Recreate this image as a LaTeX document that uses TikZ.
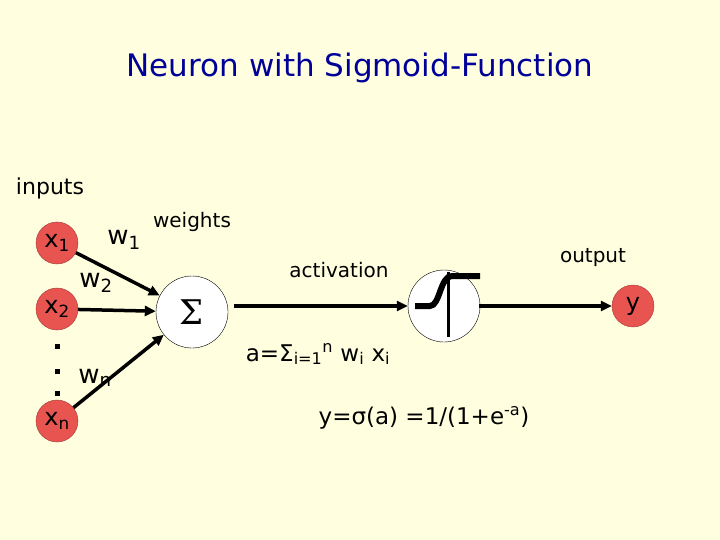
\documentclass[tikz,border=0pt]{standalone}
\usepackage{fontspec}
\setmainfont{DejaVu Sans}
\newfontfamily\serifg{DejaVu Serif}
\usetikzlibrary{arrows.meta}
\definecolor{bg}{HTML}{FFFFE0}
\definecolor{nred}{HTML}{E85450}
\definecolor{ttl}{HTML}{000099}
\begin{document}
\begin{tikzpicture}[x=1pt,y=-1pt,
  inp/.style={circle,draw=nred!70!black,fill=nred,minimum size=42pt,inner sep=0pt,font=\fontsize{24}{24}\selectfont},
  unit/.style={circle,draw=black,thin,fill=white,minimum size=72pt,inner sep=0pt},
  lbl/.style={font=\fontsize{22}{22}\selectfont},
  arr/.style={line width=3.5pt,-{Triangle[length=11pt,width=10pt]}}]
\fill[bg] (0,0) rectangle (720,540);
\useasboundingbox (0,0) rectangle (720,540);
\node[text=ttl,font=\fontsize{31}{31}\selectfont] (title) at (360,68) {Neuron with Sigmoid-Function};
\node[lbl] (inputs) at (50,188) {inputs};
\node[inp] (x1) at (57,243) {x$_{\mathrm{1}}$};
\node[inp] (x2) at (57,309) {x$_{\mathrm{2}}$};
\node[inp] (xn) at (57,421) {x$_{\mathrm{n}}$};
\foreach \y/\n in {346/d1,371/d2,393/d3}{\node[fill=black,minimum size=5pt,inner sep=0pt] (\n) at (57,\y) {};}
\node[unit,font=\serifg\fontsize{34}{34}\selectfont] (sum) at (192,312) {Σ};
\node[unit] (sig) at (444,306) {};
\node[inp] (y) at (633,306) {y};
\draw[arr] (x1) -- (sum);
\draw[arr] (x2) -- (sum);
\draw[arr] (xn) -- (sum);
\coordinate (s0) at (234,306);
\coordinate (s1) at (479,306);
\draw[arr] (s0) -- (sig.west);
\draw[arr] (s1) -- (y);
\draw[line width=3pt] (448,272) -- (448,337);
\draw[line width=6pt] (415,306) -- (430,306) .. controls (440,306) and (440,276) .. (452,276) -- (480,276);
\node[font=\fontsize{26}{26}\selectfont] (w1) at (124,240) {w\textsubscript{1}};
\node[font=\fontsize{26}{26}\selectfont] (w2) at (96,283) {w\textsubscript{2}};
\node[font=\fontsize{26}{26}\selectfont] (wn) at (95,378) {w\textsubscript{n}};
\node[font=\fontsize{20}{20}\selectfont] (weights) at (192,222) {weights};
\node[font=\fontsize{20}{20}\selectfont] (act) at (339,270) {activation};
\node[font=\fontsize{20}{20}\selectfont] (out) at (593,258) {output};
\node[font=\fontsize{23}{23}\selectfont] (f1) at (318,354) {a=Σ\textsubscript{i=1}\textsuperscript{n} w\textsubscript{i} x\textsubscript{i}};
\node[font=\fontsize{23}{23}\selectfont] (f2) at (424,418) {y=σ(a) =1/(1+e\textsuperscript{-a})};
\end{tikzpicture}
\end{document}
